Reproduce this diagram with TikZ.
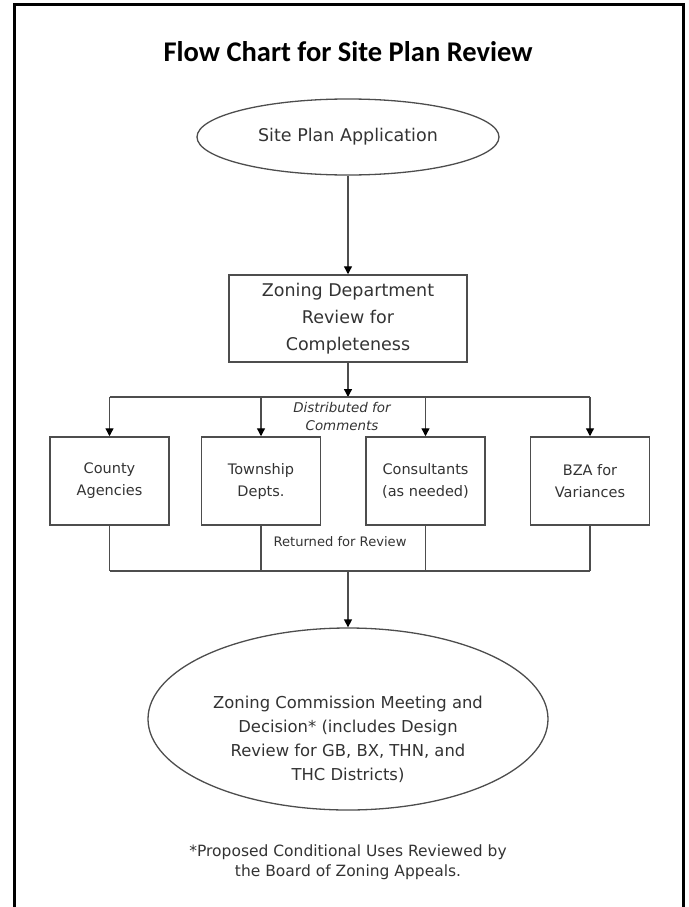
\documentclass[tikz,border=0pt]{standalone}
\usepackage{fontspec}
\setmainfont{DejaVu Sans}
\newfontfamily\titlefont{Carlito}
\usetikzlibrary{shapes.geometric, positioning, arrows.meta}
\definecolor{inkgray}{HTML}{333333}
\definecolor{linegray}{HTML}{4D4D4D}
\tikzstyle{startstop} = [ellipse, draw=linegray, line width=1.3pt, inner sep=0pt, text=inkgray]
\tikzstyle{process} = [rectangle, draw=linegray, line width=1.5pt, align=center, text=inkgray]
\tikzstyle{agency} = [process, minimum width=119pt, minimum height=88pt, font=\fontsize{14.5}{22}\selectfont]
\tikzstyle{note} = [align=center, text=inkgray, inner sep=0pt]
\tikzstyle{arrow} = [line width=1.3pt, draw=linegray, -{Triangle[length=8pt, width=8pt, color=black]}]
\tikzstyle{link} = [line width=1.3pt, draw=linegray]

\begin{document}
\begin{tikzpicture}[x=1pt, y=-1pt]
		\useasboundingbox (0,0) rectangle (688,907);
		\draw[line width=3pt] (14,910) -- (14,5) -- (683,5) -- (683,910);
		\node (title) at (348,52) {\titlefont\bfseries\fontsize{28.5}{34}\selectfont Flow Chart for Site Plan Review};
		\node (siteplan)[startstop, minimum width=302pt, minimum height=76pt, font=\fontsize{17.5}{21}\selectfont] at (348,137) {Site Plan Application};
		\node (zoning)[process, minimum width=238pt, minimum height=87pt, font=\fontsize{17.5}{27}\selectfont] at (348,318.5) {Zoning Department\\ Review for\\ Completeness};
		\node (county)[agency] at (109.5,481) {County\\ Agencies};
		\node (township)[agency, right=31pt of county] {Township\\ Depts.};
		\node (consult)[agency, right=44pt of township] {Consultants\\ (as needed)};
		\node (bza)[agency, right=44pt of consult] {BZA for\\ Variances};
		\node (distnote)[note, font=\itshape\fontsize{13.4}{18}\selectfont] at (342,416) {Distributed for\\ Comments};
		\node (retnote)[note, font=\fontsize{13.1}{16}\selectfont] at (340,542) {Returned for Review};
		\node (decision)[startstop, minimum width=400pt, minimum height=182pt] at (348,719) {};
		\node (decisiontext)[note, font=\fontsize{16.4}{24}\selectfont] at (348,739) {Zoning Commission Meeting and\\ Decision* (includes Design\\ Review for GB, BX, THN, and\\ THC Districts)};
		\node (footnote)[note, font=\fontsize{15.5}{20}\selectfont] at (348,862) {*Proposed Conditional Uses Reviewed by\\ the Board of Zoning Appeals.};
		\coordinate (dist) at (348,397);
		\coordinate (ret) at (348,571);
		\draw [arrow] (siteplan) -- (zoning);
		\draw [arrow] (zoning) -- (dist);
		\draw [link] (county.north |- dist) -- (bza.north |- dist);
		\foreach \b in {county,township,consult,bza}{
			\draw [arrow] (\b.north |- dist) -- (\b.north);
			\draw [link] (\b.south) -- (\b.south |- ret);
		}
		\draw [link] (county.south |- ret) -- (bza.south |- ret);
		\draw [arrow] (ret) -- (decision);
	\end{tikzpicture}
\end{document}
